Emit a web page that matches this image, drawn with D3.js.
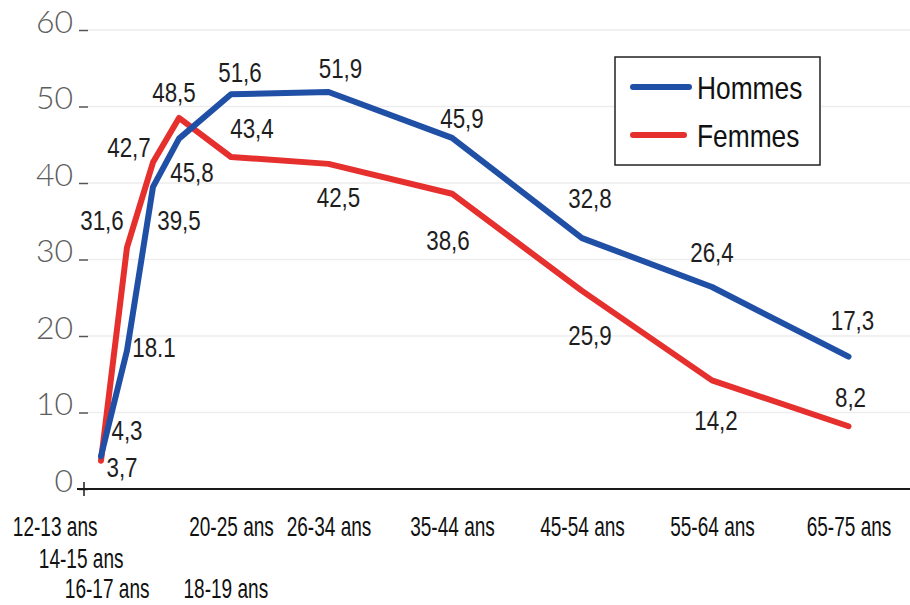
<!DOCTYPE html>
<html>
<head>
<meta charset="utf-8">
<script src="https://cdn.jsdelivr.net/npm/d3@7"></script>
<style>
  body { margin: 0; background: #fff; }
  svg { display: block; }
</style>
</head>
<body>
<div id="chart"></div>
<script>
// age groups and their mid-point age (x position is proportional to age)
var ageGroups = ["12-13 ans", "14-15 ans", "16-17 ans", "18-19 ans", "20-25 ans",
                 "26-34 ans", "35-44 ans", "45-54 ans", "55-64 ans", "65-75 ans"];
var ageMid = [12.5, 14.5, 16.5, 18.5, 22.5, 30, 39.5, 49.5, 59.5, 70];

var hommes = [4.3, 18.1, 39.5, 45.8, 51.6, 51.9, 45.9, 32.8, 26.4, 17.3];
var femmes = [3.7, 31.6, 42.7, 48.5, 43.4, 42.5, 38.6, 25.9, 14.2, 8.2];

// labels as printed on the chart
var hommesLabels = ["4,3", "18.1", "39,5", "45,8", "51,6", "51,9", "45,9", "32,8", "26,4", "17,3"];
var femmesLabels = ["3,7", "31,6", "42,7", "48,5", "43,4", "42,5", "38,6", "25,9", "14,2", "8,2"];

var yTicks = [0, 10, 20, 30, 40, 50, 60];

// label placement (nudges from the point) - layout only
var hommesNudge = [[26,-16],[27,6],[26,43],[13,43],[9,-12],[12,-14],[10,-10],[8,-30],[0,-25],[4,-27]];
var femmesNudge = [[21,16],[-25,-17],[-24,-5],[-5,-16],[21,-19],[10,43],[-4,56],[8,54],[4,50],[2,-19]];
var tickRow = [0, 1, 2, 2, 0, 0, 0, 0, 0, 0];
var tickAnchor = ["end", "end", "end", "start", "middle", "middle", "middle", "middle", "middle", "middle"];

var W = 910, H = 605;
var blue = "#2050a6", red = "#e5302e";
var cond = "'Liberation Sans', Arial, sans-serif";

var svg = d3.select("#chart").append("svg")
    .attr("width", W)
    .attr("height", H);

var x = d3.scaleLinear().domain([11.1, 75]).range([82.8, 913.5]);
var y = d3.scaleLinear().domain([0, 60]).range([489, 30]);

// faint grid
svg.append("g")
    .selectAll("line")
    .data(yTicks.slice(1))
    .enter().append("line")
    .attr("x1", 88).attr("x2", W)
    .attr("y1", function(d) { return y(d); })
    .attr("y2", function(d) { return y(d); })
    .attr("stroke", "#ededed")
    .attr("stroke-width", 1.5);

// y axis
var yAxis = d3.axisLeft(y).tickValues(yTicks).tickSize(9).tickPadding(6);
var yg = svg.append("g")
    .attr("transform", "translate(88,0)")
    .call(yAxis);
yg.select(".domain").remove();
yg.selectAll(".tick line").attr("stroke", "#555").attr("stroke-width", 1.5);
yg.selectAll(".tick text")
    .attr("dy", 2)
    .attr("fill", "#5e5e5e")
    .style("font-family", "Lato, 'Open Sans', sans-serif")
    .style("font-weight", 300)
    .style("font-size", "32px");

// x axis
var xAxis = d3.axisBottom(x).tickValues(ageMid).tickSize(0);
var xg = svg.append("g")
    .attr("transform", "translate(0," + y(0) + ")")
    .call(xAxis);
xg.select(".domain")
    .attr("d", "M77,0H" + W)
    .attr("stroke", "#1a1a1a")
    .attr("stroke-width", 2);
xg.append("line")
    .attr("x1", 84).attr("x2", 84)
    .attr("y1", -7).attr("y2", 7)
    .attr("stroke", "#1a1a1a")
    .attr("stroke-width", 1.5);

var rowY = [47, 79, 109];
xg.selectAll(".tick text")
    .text(function(d, i) { return ageGroups[i]; })
    .attr("y", null).attr("dy", null)
    .attr("text-anchor", function(d, i) { return tickAnchor[i]; })
    .attr("transform", function(d, i) {
        var dx = tickAnchor[i] == "end" ? -4 : (tickAnchor[i] == "start" ? 4 : 0);
        return "translate(" + dx + "," + rowY[tickRow[i]] + ") scale(0.68,1)";
    })
    .attr("fill", "#111")
    .style("font-family", cond)
    .style("font-size", "28px");

// lines
var line = d3.line()
    .x(function(d) { return x(d.age); })
    .y(function(d) { return y(d.v); });

var series = [
    {name: "Femmes", values: femmes, labels: femmesLabels, nudge: femmesNudge, color: red},
    {name: "Hommes", values: hommes, labels: hommesLabels, nudge: hommesNudge, color: blue}
];

series.forEach(function(s) {
    var pts = s.values.map(function(v, i) { return {age: ageMid[i], v: v}; });
    svg.append("path")
        .datum(pts)
        .attr("d", line)
        .attr("fill", "none")
        .attr("stroke", s.color)
        .attr("stroke-width", 6)
        .attr("stroke-linejoin", "round")
        .attr("stroke-linecap", "round");
});

// value labels
series.forEach(function(s) {
    svg.append("g")
        .selectAll("text")
        .data(s.values)
        .enter().append("text")
        .attr("transform", function(d, i) {
            return "translate(" + (x(ageMid[i]) + s.nudge[i][0]) + "," + (y(d) + s.nudge[i][1]) + ") scale(0.8,1)";
        })
        .attr("text-anchor", "middle")
        .attr("fill", "#1e1e1e")
        .style("font-family", cond)
        .style("font-size", "28px")
        .text(function(d, i) { return s.labels[i]; });
});

// legend
var lg = svg.append("g");
lg.append("rect")
    .attr("x", 615).attr("y", 57)
    .attr("width", 205).attr("height", 108)
    .attr("fill", "#fff")
    .attr("stroke", "#222")
    .attr("stroke-width", 1.5);

var legendItems = [{name: "Hommes", color: blue, ly: 87, len: 56},
                   {name: "Femmes", color: red, ly: 135, len: 51}];
legendItems.forEach(function(d) {
    lg.append("line")
        .attr("x1", 633).attr("x2", 633 + d.len)
        .attr("y1", d.ly).attr("y2", d.ly)
        .attr("stroke", d.color)
        .attr("stroke-width", 6)
        .attr("stroke-linecap", "round");
    lg.append("text")
        .attr("transform", "translate(697," + (d.ly + 12) + ") scale(0.85,1)")
        .attr("fill", "#111")
        .style("font-family", cond)
        .style("font-size", "31px")
        .text(d.name);
});
</script>
</body>
</html>
